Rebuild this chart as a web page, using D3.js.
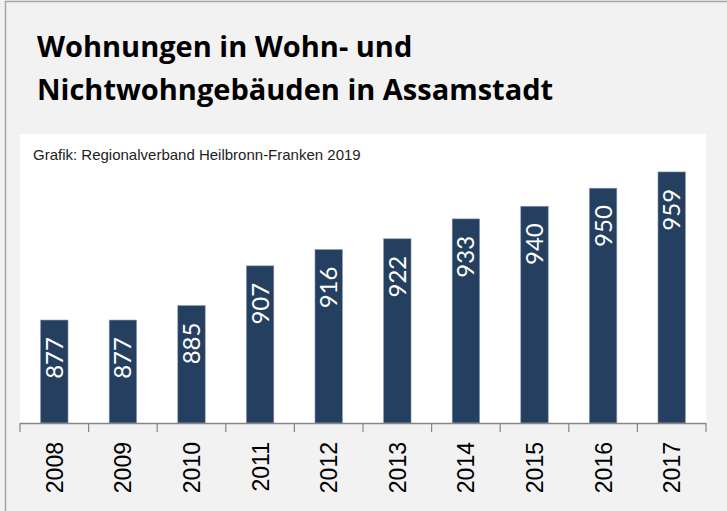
<!DOCTYPE html>
<html>
<head>
<meta charset="utf-8">
<script src="https://cdn.jsdelivr.net/npm/d3@7"></script>
<style>
  body { margin: 0; background: #f2f2f2; }
</style>
</head>
<body>
<div id="chart"></div>
<script>
const years = ["2008", "2009", "2010", "2011", "2012", "2013", "2014", "2015", "2016", "2017"];
const values = [877, 877, 885, 907, 916, 922, 933, 940, 950, 959];
const titleLines = ["Wohnungen in Wohn- und", "Nichtwohngebäuden in Assamstadt"];
const source = "Grafik: Regionalverband Heilbronn-Franken 2019";

const W = 727, H = 511;
const plot = { left: 20, right: 706, top: 134, bottom: 423 };

const svg = d3.select("#chart").append("svg")
  .attr("width", W)
  .attr("height", H);

// outer frame
svg.append("rect")
  .attr("x", 5.5).attr("y", 1.5)
  .attr("width", W + 10).attr("height", H + 10)
  .attr("fill", "#f2f2f2")
  .attr("stroke", "#a6a6a6")
  .attr("stroke-width", 1.5);

// white plot area
svg.append("rect")
  .attr("x", plot.left).attr("y", plot.top)
  .attr("width", plot.right - plot.left)
  .attr("height", plot.bottom - plot.top)
  .attr("fill", "#ffffff");

svg.append("g")
  .selectAll("text")
  .data(titleLines)
  .enter()
  .append("text")
  .attr("x", 37)
  .attr("y", (d, i) => 57 + i * 43)
  .attr("font-family", "'Open Sans', Lato, sans-serif")
  .attr("font-weight", "bold")
  .attr("font-size", "29px")
  .attr("fill", "#000")
  .text(d => d);

svg.append("text")
  .attr("x", 33)
  .attr("y", 160)
  .attr("font-family", "'Liberation Sans', Arial, sans-serif")
  .attr("font-size", "15px")
  .attr("fill", "#222")
  .text(source);

const x = d3.scaleBand().domain(years).range([plot.left, plot.right]).paddingInner(0.6).paddingOuter(0.3);
const y = d3.scaleLinear().domain([820, 980]).range([plot.bottom, plot.top]);

svg.selectAll(".bar")
  .data(years)
  .enter()
  .append("rect")
  .attr("class", "bar")
  .attr("x", d => x(d))
  .attr("y", (d, i) => y(values[i]))
  .attr("width", x.bandwidth())
  .attr("height", (d, i) => plot.bottom - y(values[i]))
  .attr("fill", "#243f60")
  .attr("stroke", "#8a9bb0")
  .attr("stroke-width", 0.6);

svg.selectAll(".val")
  .data(years)
  .enter()
  .append("text")
  .attr("class", "val")
  .attr("transform", (d, i) => `translate(${x(d) + x.bandwidth() / 2 + 8.5},${y(values[i]) + 17}) rotate(-90)`)
  .attr("text-anchor", "end")
  .attr("font-family", "Lato, 'Open Sans', sans-serif")
  .attr("font-size", "24px")
  .attr("fill", "#ffffff")
  .text((d, i) => values[i]);

// x axis with ticks between categories
const axis = svg.append("g").attr("class", "axis");
axis.append("line")
  .attr("x1", plot.left).attr("x2", plot.right)
  .attr("y1", plot.bottom + 0.5).attr("y2", plot.bottom + 0.5)
  .attr("stroke", "#868686").attr("stroke-width", 1.5);

const step = x.step();
const tickXs = [plot.left].concat(years.map(d => x(d) + x.bandwidth() / 2 + step / 2));
tickXs[tickXs.length - 1] = plot.right;
axis.selectAll(".tick")
  .data(tickXs)
  .enter()
  .append("line")
  .attr("x1", d => d).attr("x2", d => d)
  .attr("y1", plot.bottom).attr("y2", plot.bottom + 9)
  .attr("stroke", "#868686").attr("stroke-width", 1.2);

axis.selectAll(".lbl")
  .data(years)
  .enter()
  .append("text")
  .attr("transform", d => `translate(${x(d) + x.bandwidth() / 2 + 8.5},${plot.bottom + 19}) rotate(-90)`)
  .attr("text-anchor", "end")
  .attr("font-family", "'Liberation Sans', Arial, sans-serif")
  .attr("font-size", "23px")
  .attr("fill", "#000")
  .text(d => d);
</script>
</body>
</html>
